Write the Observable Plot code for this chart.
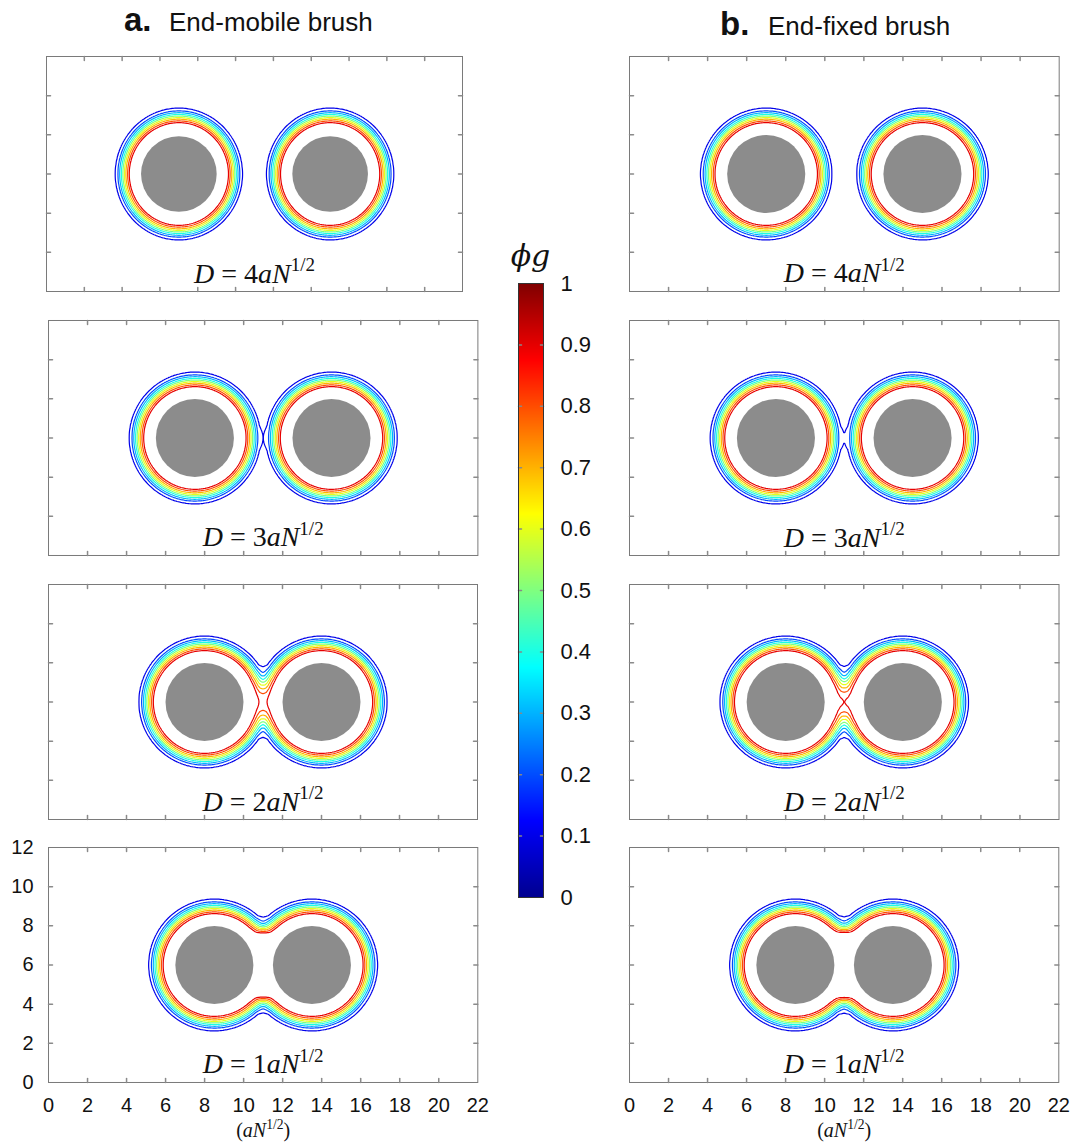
<!DOCTYPE html>
<html>
<head>
<meta charset="utf-8">
<script src="https://cdn.jsdelivr.net/npm/d3@7"></script>
<script src="https://cdn.jsdelivr.net/npm/@observablehq/plot@0.6"></script>
<style>
  html, body { margin: 0; padding: 0; background: #fff; }
  #fig { position: relative; width: 1076px; height: 1144px; overflow: hidden; font-family: "Liberation Sans", Arial, sans-serif; }
  #fig > svg { position: absolute; overflow: visible; }
</style>
</head>
<body>
<div id="fig"></div>
<script>
// ---- data ---------------------------------------------------------------
// gap between the two sphere surfaces, D (units of aN^1/2), one per row
const spacings = [4, 3, 2, 1];
// the two brush types, one per column
const columns = ["mobile", "fixed"];
const columnTags = ["a.", "b."];
const columnTitles = ["End-mobile brush", "End-fixed brush"];
// simulation box and sphere geometry (units of aN^1/2)
const boxX = [0, 22];
const boxY = [0, 12];
const sphereRadius = 2;
const boxMidX = 11;
const boxMidY = 6;
// grafted-segment volume fraction around a single sphere:
// distance from the sphere centre vs phi_g
const profileR   = [2.00, 2.55, 2.62, 2.71, 2.80, 2.88, 2.96, 3.04, 3.13, 3.22, 3.36, 3.50, 3.75];
const profilePhi = [1.00, 1.00, 0.90, 0.80, 0.70, 0.60, 0.50, 0.40, 0.30, 0.20, 0.10, 0.051, 0.00];
// how the two coronas add where they overlap (1 = plain sum)
const overlapExponent = {mobile: 1.05, fixed: 1.0};
// contour levels of phi_g
const levels = [0.1, 0.2, 0.3, 0.4, 0.5, 0.6, 0.7, 0.8, 0.9];
// tick values
const xTicks = [0, 2, 4, 6, 8, 10, 12, 14, 16, 18, 20, 22];
const yTicks = [0, 2, 4, 6, 8, 10, 12];
const barTicks = [0, 0.1, 0.2, 0.3, 0.4, 0.5, 0.6, 0.7, 0.8, 0.9, 1];
// jet colour map
const jetStops  = [0, 0.125, 0.375, 0.625, 0.875, 1];
const jetColors = ["#00008f", "#0000ff", "#00ffff", "#ffff00", "#ff0000", "#800000"];

// ---- layout (pixels) ----------------------------------------------------
const rowTop = [56, 320, 583.5, 847];
const rowHeight = 235;
const colLeft  = [[46.3, 48.3, 48.3, 47.7], [629, 629, 629, 629]];
const colWidth = [[416, 429.4, 429, 429.3], [429.7, 429.5, 429.5, 429.3]];
const M = {left: 60, right: 12, top: 12, bottom: 72};
const bar = {left: 518, top: 283, width: 25, height: 614};

const sans = "'Liberation Sans', Arial, Helvetica, sans-serif";
const serif = "'Liberation Serif', 'Times New Roman', Times, serif";
const frameGrey = "#7a7a7a";
const tickGrey = "#8a8a8a";
const sphereGrey = "#8c8c8c";

const jet = {type: "linear", domain: jetStops, range: jetColors, interpolate: "rgb"};
const profile = d3.scaleLinear().domain(profileR).range(profilePhi).clamp(true);

// a short straight tick drawn by the vector mark
const tickShape = {draw(context, l) { context.moveTo(0, 0); context.lineTo(0, -l); }};

function edgeTicks(innerX, innerY, len, stroke) {
  return [
    Plot.vector(innerX, {x: d => d, y: boxY[0], length: len, rotate: 0, anchor: "start", shape: tickShape, stroke}),
    Plot.vector(innerX, {x: d => d, y: boxY[1], length: len, rotate: 180, anchor: "start", shape: tickShape, stroke}),
    Plot.vector(innerY, {x: boxX[0], y: d => d, length: len, rotate: 90, anchor: "start", shape: tickShape, stroke}),
    Plot.vector(innerY, {x: boxX[1], y: d => d, length: len, rotate: -90, anchor: "start", shape: tickShape, stroke})
  ];
}

// rebuild "D = 4aN^1/2^" style strings: letters in italics, ^...^ as superscript
function mathText(el, size) {
  const src = el.textContent;
  while (el.firstChild) el.removeChild(el.firstChild);
  const ns = "http://www.w3.org/2000/svg";
  const rise = 0.42 * size;
  let raised = false;
  src.split("^").forEach((seg, k) => {
    if (!seg) return;
    if (k % 2 === 1) {
      const t = document.createElementNS(ns, "tspan");
      t.setAttribute("dy", -rise);
      t.setAttribute("font-size", 0.68 * size);
      t.setAttribute("font-style", "normal");
      t.textContent = seg;
      el.appendChild(t);
      raised = true;
    } else {
      seg.split(/([A-Za-z]+)/).forEach((part, j) => {
        if (!part) return;
        const t = document.createElementNS(ns, "tspan");
        if (raised) { t.setAttribute("dy", rise); raised = false; }
        t.setAttribute("font-style", j % 2 === 1 ? "italic" : "normal");
        t.textContent = part;
        el.appendChild(t);
      });
    }
  });
}

const fig = document.getElementById("fig");

function panel(ci, ri) {
  const D = spacings[ri];
  const p = overlapExponent[columns[ci]];
  const half = sphereRadius + D / 2;
  const spheres = [
    {cx: boxMidX - half, cy: boxMidY, r: sphereRadius},
    {cx: boxMidX + half, cy: boxMidY, r: sphereRadius}
  ];
  const phi = (x, y) => {
    let s = 0;
    for (const c of spheres) s += profile(Math.hypot(x - c.cx, y - c.cy)) ** p;
    return Math.min(1, s ** (1 / p));
  };
  const pw = colWidth[ci][ri];
  const last = ri === spacings.length - 1;
  const marks = [
    Plot.contour(undefined, {
      x1: boxX[0], x2: boxX[1], y1: boxY[0], y2: boxY[1],
      stroke: phi, thresholds: levels, strokeWidth: 1.2, pixelSize: 1
    }),
    Plot.dot(spheres, {x: "cx", y: "cy", r: "r", fill: sphereGrey}),
    Plot.frame({stroke: frameGrey}),
    ...edgeTicks(xTicks.slice(1, -1), yTicks.slice(1, -1), 4, tickGrey),
    Plot.text([D], {
      text: d => `D = ${d}aN^1/2^`, frameAnchor: "bottom", dy: -9, lineAnchor: "bottom",
      fontSize: 28, fontFamily: serif, fill: "#111"
    })
  ];
  if (last) {
    marks.push(Plot.axisX(xTicks, {anchor: "bottom", tickSize: 0, tickPadding: 15, fontSize: 20, fontFamily: sans, fill: "#111", label: null}));
    marks.push(Plot.text(["(aN^1/2^)"], {
      text: d => d, frameAnchor: "bottom", dy: 55, lineAnchor: "bottom", fontSize: 20, fontFamily: serif, fill: "#111"
    }));
    if (ci === 0) marks.push(Plot.axisY(yTicks, {anchor: "left", tickSize: 0, tickPadding: 15, fontSize: 20, fontFamily: sans, fill: "#111", label: null}));
  }
  const svg = Plot.plot({
    width: pw + M.left + M.right,
    height: rowHeight + M.top + M.bottom,
    marginLeft: M.left, marginRight: M.right, marginTop: M.top, marginBottom: M.bottom,
    x: {domain: boxX, axis: null},
    y: {domain: boxY, axis: null},
    r: {type: "linear", domain: [0, boxX[1] - boxX[0]], range: [0, pw]},
    color: jet,
    style: {background: "none", overflow: "visible"},
    marks
  });
  svg.style.left = (colLeft[ci][ri] - M.left) + "px";
  svg.style.top = (rowTop[ri] - M.top) + "px";
  fig.appendChild(svg);
  svg.querySelectorAll("text").forEach(t => {
    if (t.textContent.includes("^")) mathText(t, t.textContent.startsWith("(") ? 20 : 28);
  });
}

columns.forEach((c, ci) => spacings.forEach((d, ri) => panel(ci, ri)));

// colour bar
{
  const bm = {left: 10, right: 70, top: 10, bottom: 10};
  const inner = barTicks.slice(1, -1);
  const svg = Plot.plot({
    width: bar.width + bm.left + bm.right,
    height: bar.height + bm.top + bm.bottom,
    marginLeft: bm.left, marginRight: bm.right, marginTop: bm.top, marginBottom: bm.bottom,
    x: {domain: [0, 1], axis: null},
    y: {domain: [0, 1], axis: null},
    color: jet,
    style: {background: "none", overflow: "visible"},
    marks: [
      Plot.raster(undefined, {x1: 0, x2: 1, y1: 0, y2: 1, fill: (x, y) => y, pixelSize: 1}),
      Plot.vector(inner, {x: 0, y: d => d, length: 3, rotate: 90, anchor: "start", shape: tickShape, stroke: "#888"}),
      Plot.vector(inner, {x: 1, y: d => d, length: 3, rotate: -90, anchor: "start", shape: tickShape, stroke: "#888"}),
      Plot.frame({stroke: "#333"}),
      Plot.axisY(barTicks, {anchor: "right", tickSize: 0, tickPadding: 17, fontSize: 22, fontFamily: sans, fill: "#111", label: null, tickFormat: d => String(d)})
    ]
  });
  svg.style.left = (bar.left - bm.left) + "px";
  svg.style.top = (bar.top - bm.top) + "px";
  fig.appendChild(svg);
}

// column titles and colour-bar label
{
  const svg = d3.select(fig).append("svg").attr("width", 1076).attr("height", 1144).style("left", 0).style("top", 0);
  const titles = [{tag: 124, text: 169, base: 31}, {tag: 720, text: 768, base: 35}];
  columns.forEach((c, ci) => {
    const g = svg.append("text").attr("y", titles[ci].base).attr("font-family", sans).attr("fill", "#111");
    g.append("tspan").attr("x", titles[ci].tag).attr("font-size", 33).attr("font-weight", "bold").text(columnTags[ci]);
    g.append("tspan").attr("x", titles[ci].text).attr("font-size", 26).text(columnTitles[ci]);
  });
  svg.append("text").attr("x", bar.left + bar.width / 2).attr("y", 266).attr("text-anchor", "middle")
    .attr("font-family", "'DejaVu Serif', serif").attr("font-style", "italic").attr("font-size", 30).attr("fill", "#111")
    .text("ϕg");
}
</script>
</body>
</html>
